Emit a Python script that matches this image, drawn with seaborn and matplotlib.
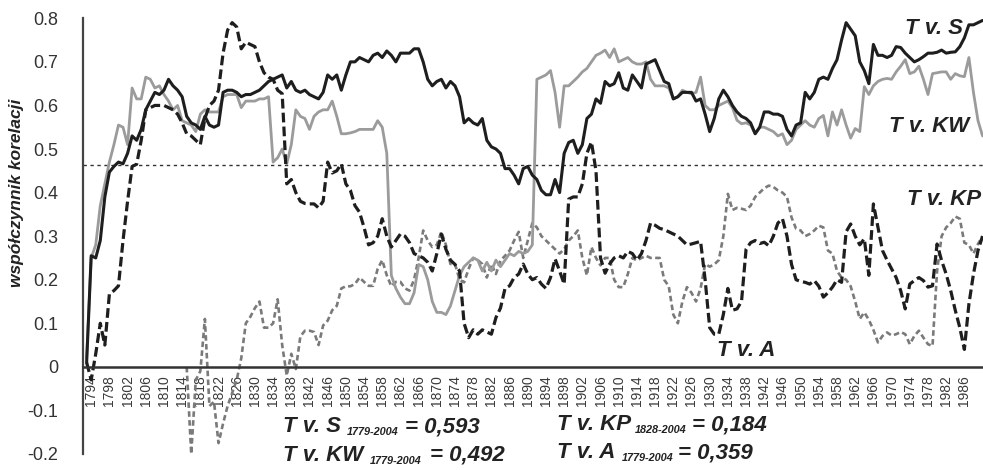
import numpy as np
import pandas as pd
import matplotlib
matplotlib.use("Agg")
import matplotlib.pyplot as plt
import seaborn as sns

# ---- data ----
years = list(range(1793, 1991))

t_v_s = [
    0.01, 0.255, 0.25, 0.29, 0.39, 0.447, 0.46, 0.47, 0.466, 0.49,
    0.53, 0.52, 0.545, 0.59, 0.61, 0.63, 0.625, 0.635, 0.66, 0.645,
    0.635, 0.62, 0.575, 0.56, 0.555, 0.545, 0.575, 0.555, 0.55, 0.555,
    0.63, 0.635, 0.635, 0.63, 0.62, 0.625, 0.625, 0.63, 0.635, 0.645,
    0.655, 0.66, 0.665, 0.67, 0.64, 0.655, 0.635, 0.63, 0.635, 0.625,
    0.62, 0.615, 0.63, 0.67, 0.66, 0.67, 0.635, 0.67, 0.70, 0.70,
    0.71, 0.705, 0.70, 0.715, 0.72, 0.71, 0.725, 0.715, 0.70, 0.72,
    0.72, 0.72, 0.73, 0.73, 0.70, 0.66, 0.645, 0.655, 0.66, 0.64,
    0.655, 0.645, 0.62, 0.56, 0.57, 0.56, 0.555, 0.57, 0.52, 0.505,
    0.50, 0.49, 0.455, 0.455, 0.44, 0.42, 0.455, 0.46, 0.44, 0.43,
    0.405, 0.395, 0.395, 0.43, 0.40, 0.49, 0.515, 0.52, 0.49, 0.51,
    0.57, 0.58, 0.615, 0.605, 0.655, 0.645, 0.65, 0.675, 0.64, 0.635,
    0.67, 0.655, 0.64, 0.695, 0.70, 0.705, 0.68, 0.655, 0.65, 0.615,
    0.62, 0.63, 0.63, 0.63, 0.61, 0.615, 0.58, 0.54, 0.57, 0.615,
    0.635, 0.62, 0.60, 0.585, 0.575, 0.57, 0.56, 0.535, 0.55, 0.585,
    0.585, 0.58, 0.58, 0.575, 0.545, 0.53, 0.555, 0.56, 0.63, 0.615,
    0.63, 0.66, 0.665, 0.66, 0.685, 0.705, 0.75, 0.79, 0.775, 0.76,
    0.70, 0.68, 0.65, 0.74, 0.715, 0.715, 0.71, 0.715, 0.735, 0.733,
    0.72, 0.71, 0.70, 0.705, 0.712, 0.72, 0.72, 0.722, 0.727, 0.72,
    0.722, 0.723, 0.735, 0.755, 0.785, 0.785, 0.79, 0.795,
]

t_v_kw = [
    0.02, 0.25, 0.28, 0.37, 0.42, 0.47, 0.51, 0.555, 0.55, 0.51,
    0.64, 0.615, 0.615, 0.665, 0.66, 0.64, 0.645, 0.625, 0.61, 0.59,
    0.60, 0.565, 0.56, 0.555, 0.54, 0.58, 0.59, 0.585, 0.585, 0.585,
    0.62, 0.625, 0.625, 0.625, 0.595, 0.61, 0.61, 0.61, 0.615, 0.615,
    0.62, 0.47, 0.48, 0.50, 0.466, 0.51, 0.59, 0.575, 0.57, 0.545,
    0.575, 0.585, 0.59, 0.59, 0.61, 0.575, 0.535, 0.535, 0.537, 0.54,
    0.545, 0.545, 0.545, 0.545, 0.565, 0.55, 0.49, 0.21, 0.18, 0.16,
    0.145, 0.145, 0.17, 0.235, 0.23, 0.20, 0.15, 0.125, 0.125, 0.12,
    0.14, 0.175, 0.21, 0.23, 0.24, 0.25, 0.245, 0.22, 0.24, 0.22,
    0.245, 0.23, 0.245, 0.26, 0.255, 0.265, 0.26, 0.265, 0.28, 0.66,
    0.665, 0.67, 0.68, 0.63, 0.55, 0.645, 0.645, 0.655, 0.665, 0.677,
    0.685, 0.70, 0.715, 0.72, 0.727, 0.71, 0.73, 0.70, 0.705, 0.71,
    0.70, 0.695, 0.695, 0.70, 0.66, 0.645, 0.645, 0.645, 0.64, 0.615,
    0.62, 0.635, 0.63, 0.627, 0.63, 0.665, 0.60, 0.59, 0.59, 0.60,
    0.605, 0.61, 0.595, 0.566, 0.558, 0.56, 0.555, 0.535, 0.55, 0.55,
    0.545, 0.54, 0.53, 0.535, 0.51, 0.52, 0.545, 0.555, 0.565, 0.555,
    0.55, 0.57, 0.577, 0.53, 0.585, 0.555, 0.59, 0.555, 0.525, 0.547,
    0.54, 0.643, 0.625, 0.645, 0.655, 0.66, 0.662, 0.66, 0.677, 0.69,
    0.705, 0.673, 0.677, 0.69, 0.66, 0.625, 0.673, 0.675, 0.677, 0.677,
    0.66, 0.673, 0.668, 0.666, 0.71, 0.63, 0.565, 0.53,
]

t_v_a = [
    0.01, -0.03, 0.03, 0.10, 0.05, 0.167, 0.175, 0.186, 0.29, 0.38,
    0.46, 0.465, 0.52, 0.59, 0.595, 0.60, 0.60, 0.60, 0.595, 0.59,
    0.58, 0.56, 0.535, 0.53, 0.52, 0.51, 0.57, 0.60, 0.61, 0.635,
    0.72, 0.773, 0.79, 0.78, 0.73, 0.745, 0.74, 0.735, 0.70, 0.675,
    0.665, 0.66, 0.635, 0.627, 0.42, 0.43, 0.40, 0.38, 0.375, 0.374,
    0.374, 0.365, 0.38, 0.47, 0.445, 0.45, 0.466, 0.42, 0.405, 0.37,
    0.355, 0.32, 0.28, 0.285, 0.30, 0.34, 0.30, 0.275, 0.29, 0.305,
    0.30, 0.285, 0.26, 0.255, 0.25, 0.24, 0.22, 0.26, 0.305, 0.27,
    0.245, 0.235, 0.22, 0.10, 0.067, 0.085, 0.075, 0.085, 0.08, 0.075,
    0.113, 0.135, 0.18, 0.186, 0.205, 0.213, 0.236, 0.213, 0.20, 0.205,
    0.19, 0.18, 0.205, 0.248, 0.22, 0.19, 0.385, 0.39, 0.39, 0.42,
    0.49, 0.516, 0.45, 0.25, 0.215, 0.236, 0.25, 0.255, 0.25, 0.265,
    0.26, 0.245, 0.26, 0.29, 0.33, 0.325, 0.318, 0.315, 0.31, 0.305,
    0.30, 0.29, 0.28, 0.282, 0.285, 0.288, 0.20, 0.09, 0.075, 0.075,
    0.12, 0.18, 0.13, 0.133, 0.15, 0.27, 0.285, 0.29, 0.283, 0.286,
    0.278, 0.30, 0.33, 0.34, 0.30, 0.235, 0.20, 0.196, 0.194, 0.19,
    0.198, 0.185, 0.16, 0.17, 0.183, 0.20, 0.194, 0.31, 0.328, 0.30,
    0.28, 0.294, 0.21, 0.374, 0.32, 0.267, 0.245, 0.225, 0.205, 0.175,
    0.133, 0.19, 0.198, 0.205, 0.198, 0.183, 0.186, 0.282, 0.244, 0.213,
    0.175, 0.13, 0.09, 0.04, 0.144, 0.213, 0.267, 0.30,
]

# T v. KP only starts in 1815
years_kp = list(range(1815, 1991))
t_v_kp = [
    0.0, -0.2, -0.03, -0.01, 0.11, -0.09, -0.08, -0.175, -0.13, -0.09,
    -0.06, -0.03, 0.02, 0.10, 0.115, 0.135, 0.15, 0.09, 0.09, 0.10,
    0.155, 0.05, -0.02, 0.03, -0.005, 0.07, 0.083, 0.083, 0.08, 0.05,
    0.095, 0.106, 0.13, 0.14, 0.18, 0.185, 0.185, 0.19, 0.205, 0.195,
    0.186, 0.186, 0.225, 0.245, 0.21, 0.185, 0.195, 0.195, 0.18, 0.175,
    0.20, 0.25, 0.313, 0.29, 0.275, 0.28, 0.31, 0.28, 0.236, 0.236,
    0.20, 0.194, 0.225, 0.25, 0.245, 0.236, 0.205, 0.236, 0.213, 0.244,
    0.255, 0.267, 0.29, 0.31, 0.25, 0.29, 0.33, 0.32, 0.30, 0.29,
    0.28, 0.27, 0.26, 0.27, 0.29, 0.30, 0.313, 0.25, 0.21, 0.275,
    0.25, 0.233, 0.25, 0.25, 0.20, 0.183, 0.183, 0.213, 0.25, 0.244,
    0.25, 0.255, 0.25, 0.25, 0.25, 0.20, 0.185, 0.12, 0.10, 0.15,
    0.183, 0.17, 0.15, 0.18, 0.236, 0.23, 0.235, 0.245, 0.30, 0.397,
    0.36, 0.365, 0.363, 0.36, 0.37, 0.39, 0.40, 0.41, 0.416, 0.413,
    0.405, 0.40, 0.39, 0.343, 0.317, 0.313, 0.30, 0.305, 0.313, 0.324,
    0.32, 0.267, 0.26, 0.22, 0.205, 0.20, 0.185, 0.15, 0.11, 0.125,
    0.108, 0.085, 0.056, 0.071, 0.079, 0.072, 0.075, 0.08, 0.075, 0.052,
    0.071, 0.083, 0.067, 0.052, 0.048, 0.22, 0.30, 0.32, 0.33, 0.345,
    0.34, 0.285, 0.28, 0.26, 0.282, 0.30,
]

threshold = 0.464
y_ticks = [0.8, 0.7, 0.6, 0.5, 0.4, 0.3, 0.2, 0.1, 0, -0.1, -0.2]
y_tick_labels = ["0.8", "0.7", "0.6", "0.5", "0.4", "0.3", "0.2", "0.1", "0", "-0.1", "-0.2"]
x_tick_years = list(range(1794, 1987, 4))

eq_names = ["T v. S", "T v. KW", "T v. KP", "T v. A"]
eq_periods = ["1779-2004", "1779-2004", "1828-2004", "1779-2004"]
eq_values = ["= 0,593", "= 0,492", "= 0,184", "= 0,359"]

# ---- plot ----
sns.set_style("white")
plt.rcParams["font.family"] = ["Liberation Sans", "DejaVu Sans"]
plt.rcParams["lines.scale_dashes"] = False

W, H = 983, 470
fig = plt.figure(figsize=(W / 100, H / 100), dpi=100)
ax = fig.add_axes([83 / W, 1 - 454 / H, 1 - 83 / W, (454 - 18.3) / H])

black = "#1e1e1e"
grey_solid = "#9b9b9b"
grey_dash = "#7a7a7a"

df_s = pd.DataFrame({"year": years, "r": t_v_s})
df_kw = pd.DataFrame({"year": years, "r": t_v_kw})
df_a = pd.DataFrame({"year": years, "r": t_v_a})
df_kp = pd.DataFrame({"year": years_kp, "r": t_v_kp})

sns.lineplot(data=df_kp, x="year", y="r", ax=ax, color=grey_dash, linewidth=1.9,
             linestyle=(0, (4.0, 2.4)), estimator=None, sort=False)
sns.lineplot(data=df_kw, x="year", y="r", ax=ax, color=grey_solid, linewidth=2.0,
             estimator=None, sort=False)
sns.lineplot(data=df_a, x="year", y="r", ax=ax, color=black, linewidth=2.3,
             linestyle=(0, (7.0, 3.0)), estimator=None, sort=False)
sns.lineplot(data=df_s, x="year", y="r", ax=ax, color=black, linewidth=2.2,
             estimator=None, sort=False)

ax.axhline(threshold, color="#333333", linewidth=1.0, linestyle=(0, (2.4, 2.6)), zorder=1)

ax.set_xlim(1792.2, 1990.1)
ax.set_ylim(-0.2, 0.8)

for side in ["top", "right"]:
    ax.spines[side].set_visible(False)
ax.spines["left"].set_color("#444444")
ax.spines["left"].set_linewidth(1.6)
ax.spines["bottom"].set_position(("data", 0))
ax.spines["bottom"].set_color("#333333")
ax.spines["bottom"].set_linewidth(1.8)

ax.set_yticks(y_ticks)
ax.set_yticklabels(y_tick_labels, fontsize=13, color="#333333")
ax.tick_params(axis="y", direction="out", length=6, width=1.4, color="#444444", pad=12)

ax.set_xticks(x_tick_years)
ax.set_xticklabels([str(y) for y in x_tick_years], rotation=90, fontsize=10, color="#3a3a3a")
ax.set_xticks(range(1793, 1991), minor=True)
ax.tick_params(axis="x", which="both", direction="out", length=4, width=1.0,
               color="#333333", pad=2)
ax.set_xlabel("")
ax.set_ylabel("współczynnik korelacji", fontsize=12.5, fontweight="bold", style="italic",
              color="#222222")
ax.yaxis.set_label_coords(-0.066, 0.60)
ax.grid(False)

# series labels
lab_kw = dict(fontsize=16, fontweight="bold", style="italic", color="#222222", va="baseline")
ax.text(1985.6, 0.765, "T v. S", ha="right", **lab_kw)
ax.text(1987.1, 0.54, "T v. KW", ha="right", **lab_kw)
ax.text(1989.7, 0.371, "T v. KP", ha="right", **lab_kw)
ax.text(1931.7, 0.025, "T v. A", ha="left", **lab_kw)

# correlation summary under the axis (pixel positions of name, period, value, baseline)
eq_layout = [(283, 347, 405, 432), (283, 370, 430, 461),
             (557, 635, 692, 430), (557, 622, 678, 458)]
big = dict(fontsize=16, fontweight="bold", style="italic", color="#222222", va="baseline")
small = dict(fontsize=7.8, fontweight="bold", style="italic", color="#222222", va="baseline")
for name, period, val, (x1, x2, x3, yb) in zip(eq_names, eq_periods, eq_values, eq_layout):
    fig.text(x1 / W, 1 - yb / H, name, **big)
    fig.text(x2 / W, 1 - (yb + 3) / H, period, **small)
    fig.text(x3 / W, 1 - yb / H, val, **big)

fig.savefig("out.png", dpi=100)
